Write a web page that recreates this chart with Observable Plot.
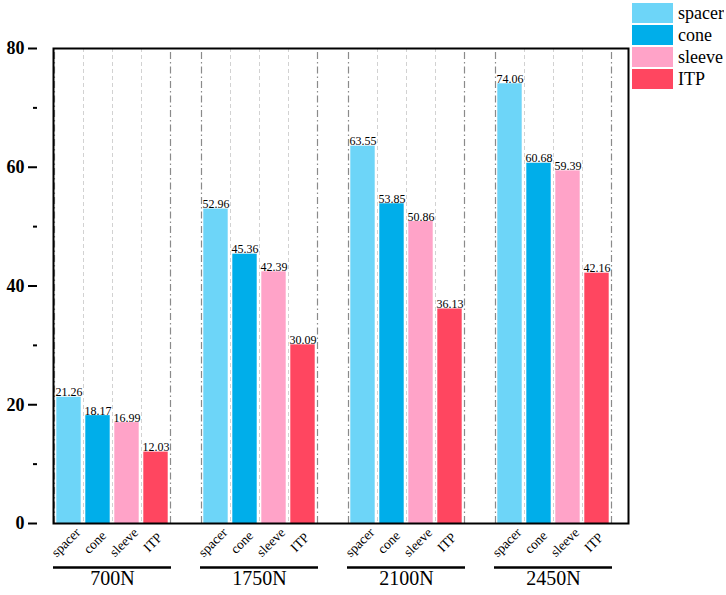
<!DOCTYPE html>
<html><head><meta charset="utf-8">
<script src="https://cdn.jsdelivr.net/npm/d3@7"></script>
<script src="https://cdn.jsdelivr.net/npm/@observablehq/plot@0.6"></script>
<style>
body{margin:0;background:#fff;}
#wrap{position:relative;width:726px;height:595px;font-family:"Liberation Serif","Times New Roman",serif;}
#legend{position:absolute;left:632px;top:3px;}
#legend, #legend *{font-family:"Liberation Serif","Times New Roman",serif !important;font-size:18px !important;color:#000 !important;}
#legend > div > div{padding:0 !important;margin:0 0 2px 0 !important;height:20px !important;line-height:20px !important;display:flex !important;align-items:center !important;}
#legend svg{margin-right:5px !important;display:block !important;}
</style></head><body><div id="wrap"><div id="chart"></div><div id="legend"></div></div>
<script>
const groups = ["700N", "1750N", "2100N", "2450N"];
const categories = ["spacer", "cone", "sleeve", "ITP"];
const spacer = [21.26, 52.96, 63.55, 74.06];
const cone = [18.17, 45.36, 53.85, 60.68];
const sleeve = [16.99, 42.39, 50.86, 59.39];
const itp = [12.03, 30.09, 36.13, 42.16];
const colors = ["#6dd5f8", "#00aeea", "#ffa3c8", "#ff4660"];
const majorTicks = [0, 20, 40, 60, 80];
const minorTicks = [10, 30, 50, 70];

const series = [spacer, cone, sleeve, itp];
const data = groups.flatMap((g, gi) => categories.map((c, ci) => ({group: g, category: c, value: series[ci][gi]})));

const serif = "Liberation Serif, Times New Roman, serif";
const base = {
  width: 726, height: 595,
  marginLeft: 37, marginRight: 98, marginTop: 48, marginBottom: 72,
  fx: {domain: groups, paddingInner: 0.198, paddingOuter: 0.108, axis: null},
  x: {domain: categories, padding: 0, axis: null},
  y: {domain: [0, 80], axis: null},
  color: {domain: categories, range: colors},
  style: {fontFamily: serif, background: "white", color: "black"}
};

// probe to read the band geometry from the library's scales
const probe = Plot.plot({...base, marks: [Plot.barY(data, {fx: "group", x: "category", y: "value"})]});
const fxS = probe.scale("fx"), xS = probe.scale("x");
const half = xS.step / 2;
const outerL = fxS.apply(groups[0]) - base.marginLeft;
const outerR = (base.width - base.marginRight) - (fxS.apply(groups[groups.length - 1]) + fxS.bandwidth);

const chart = Plot.plot({
  ...base,
  marks: [
    Plot.ruleX(["spacer", "cone", "sleeve"], {x: d => d, dx: half, stroke: "#d2d2d2", strokeWidth: 1, strokeDasharray: "4,3"}),
    Plot.ruleX(["spacer"], {x: d => d, dx: -half, stroke: "#8a8a8a", strokeWidth: 1.2, strokeDasharray: "7,3,1.5,3", insetTop: 4}),
    Plot.ruleX(["ITP"], {x: d => d, dx: half, stroke: "#8a8a8a", strokeWidth: 1.2, strokeDasharray: "7,3,1.5,3", insetTop: 4}),
    Plot.barY(data, {fx: "group", x: "category", y: "value", fill: "category", insetLeft: 2.3, insetRight: 2.3}),
    Plot.text(data, {fx: "group", x: "category", y: "value", text: d => d.value.toFixed(2), lineAnchor: "bottom", dy: -1, fontSize: 12, fill: "black"}),
    Plot.text(categories, {x: d => d, frameAnchor: "bottom", dy: 22, rotate: -45, fontSize: 13.5, fill: "black"}),
    Plot.ruleY([0], {dy: 44, stroke: "black", strokeWidth: 2.5}),
    Plot.text(groups, {fx: d => d, text: d => d, frameAnchor: "bottom", dy: 61, fontSize: 20, fill: "black"}),
    Plot.axisY({ticks: majorTicks, label: null, tickSize: 9, tickPadding: 4, strokeWidth: 2, fontSize: 18, fontWeight: "bold", dx: -outerL, tickFormat: d => d}),
    Plot.axisY({ticks: minorTicks, label: null, tickSize: 4, strokeWidth: 2, text: null, dx: -outerL}),
    Plot.frame({facet: "super", stroke: "black", strokeWidth: 2, insetRight: -outerR})
  ]
});
document.getElementById("chart").appendChild(chart);

const legend = Plot.legend({
  color: {domain: categories, range: colors},
  legend: "swatches", columns: 1, swatchWidth: 41, swatchHeight: 20
});
document.getElementById("legend").appendChild(legend);
</script></body></html>
